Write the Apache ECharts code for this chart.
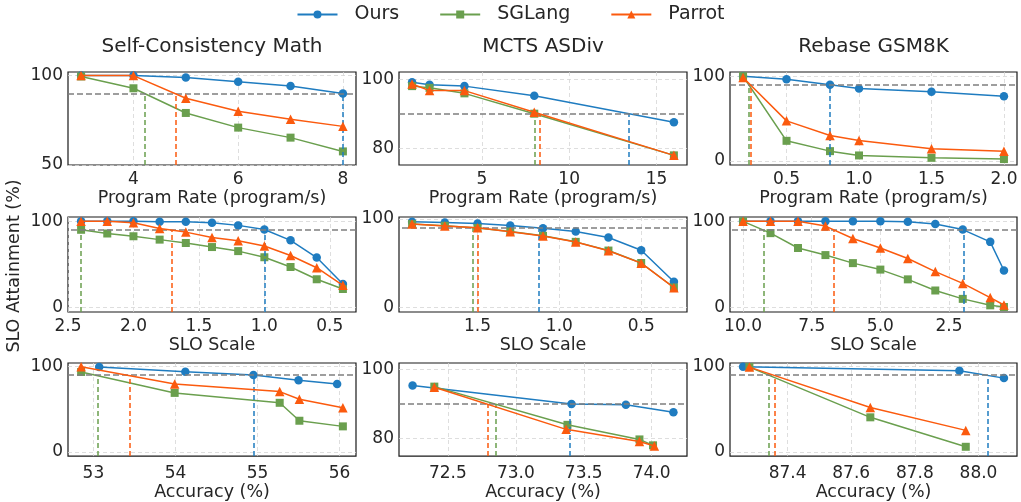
<!DOCTYPE html>
<html>
<head>
<meta charset="utf-8">
<script src="https://cdn.jsdelivr.net/npm/echarts@6/dist/echarts.min.js"></script>
<style>
html, body { margin: 0; padding: 0; background: #fff; }
#main { width: 1021px; height: 502px; }
</style>
</head>
<body>
<div id="main"></div>
<script>
// ---- data ----
var seriesNames = ['Ours', 'SGLang', 'Parrot'];
var colTitles = ['Self-Consistency Math', 'MCTS ASDiv', 'Rebase GSM8K'];
var rowXNames = ['Program Rate (program/s)', 'SLO Scale', 'Accuracy (%)'];
var sloTarget = 90;

// row 1 : program rate
var scRate = [3, 4, 5, 6, 7, 8];
var scRateOurs = [100, 100, 98.9, 96.6, 94.2, 90.0];
var scRateSGLang = [99.5, 92.9, 79.1, 70.9, 65.3, 57.6];
var scRateParrot = [100, 100, 87.3, 80.0, 75.6, 71.6];
var scRateCross = [8.0, 4.22, 4.81];

var mctsRate = [1, 2, 4, 8, 16];
var mctsRateOurs = [99.2, 98.5, 98.1, 95.3, 87.6];
var mctsRateSGLang = [98.1, 97.6, 96.0, 90.1, 78.0];
var mctsRateParrot = [98.7, 96.8, 96.8, 90.5, 78.0];
var mctsRateCross = [13.42, 8.05, 8.32];

var rebRate = [0.2, 0.5, 0.8, 1.0, 1.5, 2.0];
var rebRateOurs = [100, 96.5, 90.0, 85.4, 81.5, 76.4];
var rebRateSGLang = [100, 23.6, 11.4, 6.3, 3.5, 2.0];
var rebRateParrot = [98.4, 47.2, 29.9, 24.0, 14.2, 11.4];
var rebRateCross = [0.8, 0.241, 0.25];

// row 2 : slo scale
var scSlo = [2.4, 2.2, 2.0, 1.8, 1.6, 1.4, 1.2, 1.0, 0.8, 0.6, 0.4];
var scSloOurs = [100, 100, 100, 99.6, 99.6, 98.4, 95.3, 90.6, 78.0, 58.0, 27.5];
var scSloSGLang = [90.2, 85.9, 82.7, 78.8, 74.9, 70.2, 65.5, 58.4, 47.1, 32.9, 21.6];
var scSloParrot = [100, 100, 98.4, 91.8, 87.5, 81.2, 77.6, 71.4, 60.4, 46.3, 25.9];
var scSloCross = [1.0, 2.4, 1.707];

var mctsSlo = [1.9, 1.7, 1.5, 1.3, 1.1, 0.9, 0.7, 0.5, 0.3];
var mctsSloOurs = [96.6, 95.8, 94.7, 92.5, 89.4, 85.7, 78.9, 64.5, 29.1];
var mctsSloSGLang = [94.0, 92.1, 89.6, 85.7, 80.8, 74.0, 64.2, 50.2, 22.6];
var mctsSloParrot = [94.0, 92.0, 90.0, 85.5, 80.6, 73.8, 64.0, 50.0, 22.4];
var mctsSloCross = [1.125, 1.527, 1.498];

var rebSlo = [10, 9, 8, 7, 6, 5, 4, 3, 2, 1, 0.5];
var rebSloOurs = [100, 100, 100, 100, 100, 100, 99.6, 96.9, 90.4, 76.2, 43.0];
var rebSloSGLang = [100, 86.3, 69.1, 60.9, 51.6, 44.1, 32.8, 19.9, 10.2, 2.7, 0.8];
var rebSloParrot = [100, 100, 100, 94.5, 80.1, 69.1, 57.0, 41.8, 28.1, 11.7, 3.1];
var rebSloCross = [1.98, 9.26, 6.68];

// row 3 : accuracy (each method has its own x)
var scAccOursX = [53.07, 54.12, 54.95, 55.50, 55.97];
var scAccOurs = [99.2, 93.8, 89.9, 83.7, 79.5];
var scAccSGLangX = [52.85, 53.99, 55.27, 55.51, 56.04];
var scAccSGLang = [93.5, 69.0, 57.4, 36.4, 29.8];
var scAccParrotX = [52.85, 53.99, 55.27, 55.51, 56.04];
var scAccParrot = [99.5, 79.5, 70.5, 61.6, 51.6];
var scAccCross = [54.95, 53.05, 53.44];

var mctsAccOursX = [72.24, 73.41, 73.81, 74.16];
var mctsAccOurs = [95.3, 90.0, 89.8, 87.6];
var mctsAccSGLangX = [72.40, 73.38, 73.91, 74.01];
var mctsAccSGLang = [95.0, 84.0, 79.8, 78.1];
var mctsAccParrotX = [72.40, 73.37, 73.91, 74.02];
var mctsAccParrot = [94.8, 82.7, 79.2, 77.9];
var mctsAccCross = [73.40, 72.855, 72.79];

var rebAccOursX = [87.26, 87.94, 88.08];
var rebAccOurs = [99.6, 94.9, 86.3];
var rebAccSGLangX = [87.28, 87.66, 87.96];
var rebAccSGLang = [99.2, 40.4, 5.9];
var rebAccParrotX = [87.28, 87.66, 87.96];
var rebAccParrot = [99.2, 51.8, 25.1];
var rebAccCross = [88.03, 87.34, 87.36];

// tick labels
var scRateTicks = [4, 6, 8];
var mctsRateTicks = [5, 10, 15];
var rebRateTicks = [0.5, 1.0, 1.5, 2.0];
var scSloTicks = [2.5, 2.0, 1.5, 1.0, 0.5];
var mctsSloTicks = [1.5, 1.0, 0.5];
var rebSloTicks = [10.0, 7.5, 5.0, 2.5];
var scAccTicks = [53, 54, 55, 56];
var mctsAccTicks = [72.5, 73.0, 73.5, 74.0];
var rebAccTicks = [87.4, 87.6, 87.8, 88.0];
var yTicksHigh = [50, 100];
var yTicksMcts = [80, 100];
var yTicksFull = [0, 100];

// ---- layout / style ----
var colors = ['#1f7cc0', '#6a9f4e', '#fb5a0e'];
var symbols = ['circle', 'rect', 'triangle'];
var symbolSizes = [8.5, 8, 9.5];
var fontFam = 'DejaVu Sans';
var textColor = '#262626';
var colLeft = [68, 399, 730];
var colWidth = [288, 288, 287];
var rowTop = [72, 217, 363];
var rowHeight = [93, 95, 94];
var rowLabelMargin = [6, 6, 9];
var rowNameGap = [24, 24, 25];

function zip(xs, ys) {
  var out = [];
  for (var i = 0; i < xs.length; i++) out.push([xs[i], ys[i]]);
  return out;
}

var panels = [
  { xs: [scRate, scRate, scRate], ys: [scRateOurs, scRateSGLang, scRateParrot], cross: scRateCross,
    xMin: 2.75, xMax: 8.25, xTicks: scRateTicks, dec: 0, yMin: 50, yMax: 102, yTicks: yTicksHigh },
  { xs: [mctsRate, mctsRate, mctsRate], ys: [mctsRateOurs, mctsRateSGLang, mctsRateParrot], cross: mctsRateCross,
    xMin: 0.25, xMax: 16.75, xTicks: mctsRateTicks, dec: 0, yMin: 75.2, yMax: 102.2, yTicks: yTicksMcts },
  { xs: [rebRate, rebRate, rebRate], ys: [rebRateOurs, rebRateSGLang, rebRateParrot], cross: rebRateCross,
    xMin: 0.11, xMax: 2.09, xTicks: rebRateTicks, dec: 1, yMin: -5, yMax: 105, yTicks: yTicksFull },
  { xs: [scSlo, scSlo, scSlo], ys: [scSloOurs, scSloSGLang, scSloParrot], cross: scSloCross, inverse: true,
    xMin: 0.3, xMax: 2.5, xTicks: scSloTicks, dec: 1, yMin: -5, yMax: 105, yTicks: yTicksFull },
  { xs: [mctsSlo, mctsSlo, mctsSlo], ys: [mctsSloOurs, mctsSloSGLang, mctsSloParrot], cross: mctsSloCross, inverse: true,
    xMin: 0.22, xMax: 1.98, xTicks: mctsSloTicks, dec: 1, yMin: -5, yMax: 102, yTicks: yTicksFull },
  { xs: [rebSlo, rebSlo, rebSlo], ys: [rebSloOurs, rebSloSGLang, rebSloParrot], cross: rebSloCross, inverse: true,
    xMin: 0.025, xMax: 10.475, xTicks: rebSloTicks, dec: 1, yMin: -5, yMax: 105, yTicks: yTicksFull },
  { xs: [scAccOursX, scAccSGLangX, scAccParrotX], ys: [scAccOurs, scAccSGLang, scAccParrot], cross: scAccCross,
    xMin: 52.69, xMax: 56.2, xTicks: scAccTicks, dec: 0, yMin: -5, yMax: 104, yTicks: yTicksFull },
  { xs: [mctsAccOursX, mctsAccSGLangX, mctsAccParrotX], ys: [mctsAccOurs, mctsAccSGLang, mctsAccParrot], cross: mctsAccCross,
    xMin: 72.14, xMax: 74.26, xTicks: mctsAccTicks, dec: 1, yMin: 75, yMax: 101.8, yTicks: yTicksMcts },
  { xs: [rebAccOursX, rebAccSGLangX, rebAccParrotX], ys: [rebAccOurs, rebAccSGLang, rebAccParrot], cross: rebAccCross,
    xMin: 87.219, xMax: 88.121, xTicks: rebAccTicks, dec: 1, yMin: -5, yMax: 104, yTicks: yTicksFull }
];

var grids = [], xAxes = [], yAxes = [], series = [], titles = [];
var gridLine = { show: true, lineStyle: { color: '#d6d6d6', width: 0.8, type: [4, 3] } };

panels.forEach(function (p, i) {
  var row = Math.floor(i / 3), col = i % 3;
  grids.push({
    left: colLeft[col], top: rowTop[row], width: colWidth[col], height: rowHeight[row],
    show: true, borderColor: '#1a1a1a', borderWidth: 1.2, backgroundColor: 'transparent'
  });
  (function (dec) {
    xAxes.push({
      type: 'value', gridIndex: i, min: p.xMin, max: p.xMax, inverse: !!p.inverse,
      axisLine: { show: false },
      axisTick: { show: false, customValues: p.xTicks },
      axisLabel: {
        customValues: p.xTicks, margin: rowLabelMargin[row], fontSize: 17, fontFamily: fontFam, color: textColor,
        formatter: function (v) { return v.toFixed(dec); }
      },
      splitLine: gridLine,
      name: rowXNames[row], nameLocation: 'middle', nameGap: rowNameGap[row],
      nameTextStyle: { fontSize: 17.5, fontFamily: fontFam, color: textColor }
    });
  })(p.dec);
  yAxes.push({
    type: 'value', gridIndex: i, min: p.yMin, max: p.yMax,
    axisLine: { show: false },
    axisTick: { show: false, customValues: p.yTicks },
    axisLabel: { customValues: p.yTicks, margin: 5, fontSize: 17, fontFamily: fontFam, color: textColor },
    splitLine: gridLine
  });
  if (row === 0) {
    titles.push({
      text: colTitles[col], left: colLeft[col] + colWidth[col] / 2, top: 37, textAlign: 'center', padding: 0,
      textStyle: { fontSize: 20, fontWeight: 'normal', fontFamily: fontFam, color: textColor }
    });
  }
  for (var k = 0; k < 3; k++) {
    var markData = [[{ coord: [p.cross[k], p.yMin] }, { coord: [p.cross[k], sloTarget] }]];
    var mark = {
      silent: true, symbol: ['none', 'none'], label: { show: false },
      lineStyle: { color: colors[k], type: [5, 3], width: 1.5 },
      data: markData
    };
    series.push({
      name: seriesNames[k], type: 'line', xAxisIndex: i, yAxisIndex: i,
      data: zip(p.xs[k], p.ys[k]),
      symbol: symbols[k], symbolSize: symbolSizes[k],
      lineStyle: { width: 1.5, color: colors[k] },
      itemStyle: { color: colors[k] },
      z: 3 + k,
      markLine: mark
    });
  }
  // 90% target line
  series.push({
    type: 'line', xAxisIndex: i, yAxisIndex: i, data: [], z: 2,
    markLine: {
      silent: true, symbol: ['none', 'none'], label: { show: false },
      lineStyle: { color: '#7f7f7f', type: [6, 3], width: 1.5 },
      data: [{ yAxis: sloTarget }]
    }
  });
});

var chart = echarts.init(document.getElementById('main'), null, { renderer: 'canvas' });
chart.setOption({
  animation: false,
  backgroundColor: '#fff',
  title: titles,
  legend: {
    data: seriesNames, top: 5, left: 'center', padding: 0,
    itemWidth: 40, itemHeight: 10, itemGap: 40,
    textStyle: { fontSize: 19, fontFamily: fontFam, color: textColor, padding: [0, 0, 0, 12] }
  },
  graphic: [{
    type: 'text', x: 14, y: 266, rotation: Math.PI / 2,
    style: { text: 'SLO Attainment (%)', font: '17.5px "DejaVu Sans"', fill: textColor, align: 'center', verticalAlign: 'middle' }
  }],
  grid: grids,
  xAxis: xAxes,
  yAxis: yAxes,
  series: series
});
</script>
</body>
</html>
